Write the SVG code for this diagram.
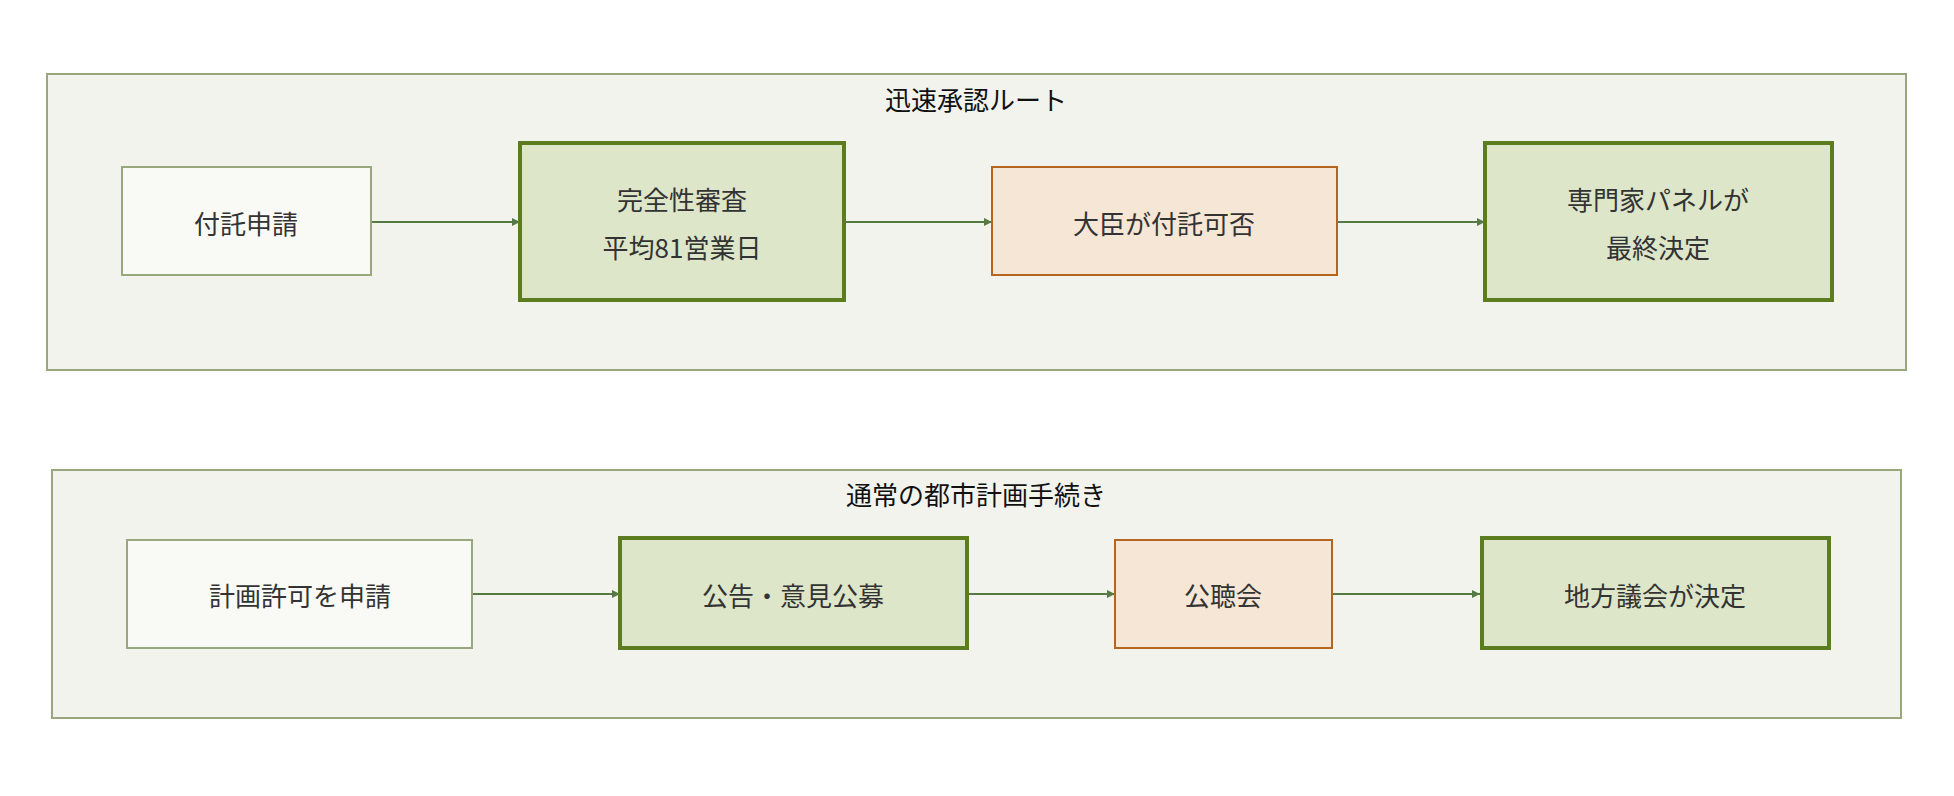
<svg xmlns="http://www.w3.org/2000/svg" width="1954" height="796" viewBox="0 0 1954 796">
<style>
text{font-family:"Noto Sans CJK JP","Noto Sans",sans-serif;font-size:26px;fill:#333;text-anchor:middle;dominant-baseline:central}
.grp{fill:#f2f3ec;stroke:#98a77e;stroke-width:2}
.start{fill:#f9faf5;stroke:#98a77e;stroke-width:2}
.key{fill:#dde6c8;stroke:#5b7d1f;stroke-width:4}
.mid{fill:#f5e6d5;stroke:#b5651d;stroke-width:2}
.title{fill:#111}
.c{stroke:#567a46;stroke-width:2;fill:none;marker-end:url(#ah)}
</style>
<defs><marker id="ah" viewBox="0 0 10 10" refX="10" refY="5" markerWidth="8" markerHeight="8" markerUnits="userSpaceOnUse" orient="auto"><path d="M0,0L10,5L0,10z" fill="#567a46"/></marker></defs>
<rect width="1954" height="796" fill="#fff"/>
<g id="group1"><rect class="grp" x="47" y="74" width="1859" height="296"/><text class="title" x="976" y="98">迅速承認ルート</text></g>
<g id="group2"><rect class="grp" x="52" y="470" width="1849" height="248"/><text class="title" x="976" y="493">通常の都市計画手続き</text></g>
<g id="connectors">
<line class="c" x1="371" y1="222" x2="520" y2="222"/>
<line class="c" x1="844" y1="222" x2="992" y2="222"/>
<line class="c" x1="1337" y1="222" x2="1485" y2="222"/>
<line class="c" x1="472" y1="594" x2="620" y2="594"/>
<line class="c" x1="967" y1="594" x2="1115" y2="594"/>
<line class="c" x1="1332" y1="594" x2="1480" y2="594"/>
</g>
<g id="n1"><rect class="start" x="122" y="167" width="249" height="108"/><text x="246" y="222">付託申請</text></g>
<g id="n2"><rect class="key" x="520" y="143" width="324" height="157"/><text x="682" y="198">完全性審査</text><text x="682" y="246">平均81営業日</text></g>
<g id="n3"><rect class="mid" x="992" y="167" width="345" height="108"/><text x="1164" y="222">大臣が付託可否</text></g>
<g id="n4"><rect class="key" x="1485" y="143" width="347" height="157"/><text x="1658" y="198">専門家パネルが</text><text x="1658" y="246">最終決定</text></g>
<g id="n5"><rect class="start" x="127" y="540" width="345" height="108"/><text x="300" y="594">計画許可を申請</text></g>
<g id="n6"><rect class="key" x="620" y="538" width="347" height="110"/><text x="793" y="594">公告・意見公募</text></g>
<g id="n7"><rect class="mid" x="1115" y="540" width="217" height="108"/><text x="1223" y="594">公聴会</text></g>
<g id="n8"><rect class="key" x="1482" y="538" width="347" height="110"/><text x="1655" y="594">地方議会が決定</text></g>
</svg>
